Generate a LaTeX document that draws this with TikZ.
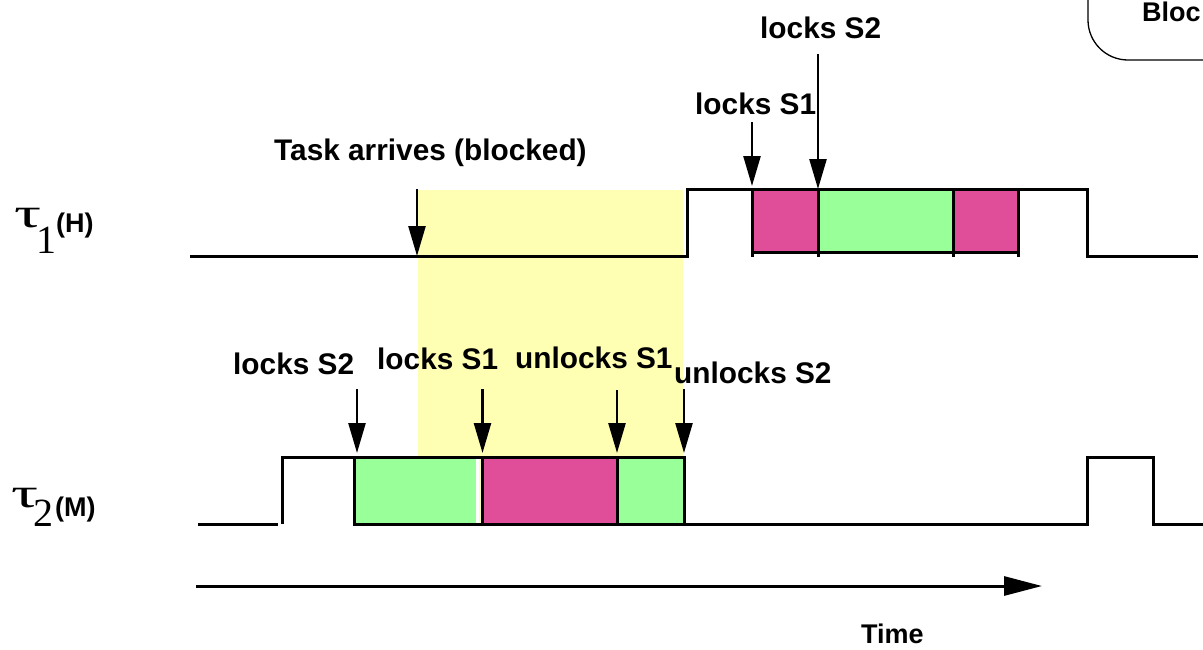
\documentclass[tikz,border=0pt]{standalone}
\usepackage{fontspec}
\setmainfont{Liberation Sans}
\newfontfamily\grfont{Liberation Serif}
\usetikzlibrary{arrows.meta}
\definecolor{lockgreen}{RGB}{153,255,153}
\definecolor{lockpink}{RGB}{224,78,153}
\definecolor{blockyellow}{RGB}{255,255,179}

\begin{document}
\begin{tikzpicture}[x=1pt,y=-1pt,
  wave/.style={line width=3pt, line join=miter},
  marker/.style={line width=2.5pt, -{Triangle[length=30pt,width=17pt]}},
  timeline/.style={line width=3pt, -{Triangle[length=38pt,width=19pt]}},
  lbl/.style={font=\bfseries\fontsize{29.8}{30}\selectfont, inner sep=0pt, anchor=base west},
  sublbl/.style={font=\bfseries\fontsize{27}{28}\selectfont, inner sep=0pt, anchor=base west},
  taskname/.style={font=\grfont\fontsize{42}{42}\selectfont, inner sep=0pt, anchor=base west}]
\useasboundingbox (0,0) rectangle (1203,649);
\begin{scope}
\clip (0,0) rectangle (1203,649);

% interval during which the high-priority task is blocked
\fill[blockyellow] (418,190) rectangle (683,524);

% critical sections of tau1
\fill[lockpink]  (752,189) rectangle (818,254);
\fill[lockgreen] (818,189) rectangle (953,254);
\fill[lockpink]  (953,189) rectangle (1018,254);
\draw[wave] (752,252) -- (1018,252);
\foreach \x in {752,818,953,1018} \draw[wave] (\x,189) -- (\x,257);

% tau1 activity
\draw[wave] (190,256) -- (687,256) -- (687,189) -- (1087,189) -- (1087,256) -- (1198,256);

% critical sections of tau2
\fill[lockgreen] (354,457) rectangle (476,524);
\fill[white]     (476,457) rectangle (478.5,524);
\fill[lockpink]  (482.5,457) rectangle (617,524);
\fill[lockgreen] (617,457) rectangle (684,524);

% tau2 activity
\draw[wave] (198,524) -- (278,524);
\draw[wave] (282,524) -- (282,457) -- (684,457) -- (684,524);
\draw[wave] (354,457) -- (354,524) -- (1087,524) -- (1087,457) -- (1153,457) -- (1153,524) -- (1203,524);
\draw[wave] (482.5,457) -- (482.5,524);
\draw[wave] (617,457) -- (617,524);

% legend box in the corner
\draw[line width=1.3pt, rounded corners=40pt] (1088,-40) -- (1088,60) -- (1260,60);
\node[sublbl] (legend) at (1142,21) {Bloc};
\end{scope}

% task names
\node[taskname] (tau1) at (14,227) {\scalebox{1.6}[1]{τ}\kern-5pt\raisebox{-26pt}{\fontsize{40}{40}\selectfont 1}};
\node[sublbl] (prioH) at (56,232) {(H)};
\node[taskname] (tau2) at (11,507) {\scalebox{1.6}[1]{τ}\kern-5pt\raisebox{-19pt}{\fontsize{40}{40}\selectfont 2}};
\node[sublbl] (prioM) at (55,516) {(M)};

% event labels
\node[lbl] (arrive) at (274,160) {Task arrives (blocked)};
\node[lbl] (hiS2) at (760,38) {locks S2};
\node[lbl] (hiS1) at (695,114) {locks S1};
\node[lbl] (loS2) at (233,374) {locks S2};
\node[lbl] (loS1) at (377,369) {locks S1};
\node[lbl] (loU1) at (515,368) {unlocks S1};
\node[lbl] (loU2) at (674,383) {unlocks S2};
\node[sublbl] (timeLbl) at (861,643) {Time};

% event markers
\coordinate (arriveA) at (417,189);  \coordinate (arriveB) at (417,256);
\coordinate (hiS1A) at (752,122);    \coordinate (hiS1B) at (752,186);
\coordinate (hiS2A) at (818,54);     \coordinate (hiS2B) at (818,189);
\coordinate (loS2A) at (357,389);    \coordinate (loS2B) at (357,453);
\coordinate (loS1A) at (482.5,389);  \coordinate (loS1B) at (482.5,453);
\coordinate (loU1A) at (617,390);    \coordinate (loU1B) at (617,453);
\coordinate (loU2A) at (684,389);    \coordinate (loU2B) at (684,453);
\draw[marker] (arriveA) -- (arriveB);
\draw[marker] (hiS1A) -- (hiS1B);
\draw[marker] (hiS2A) -- (hiS2B);
\draw[marker] (loS2A) -- (loS2B);
\draw[marker] (loS1A) -- (loS1B);
\draw[marker] (loU1A) -- (loU1B);
\draw[marker] (loU2A) -- (loU2B);

% time axis
\coordinate (t0) at (196,586);
\coordinate (t1) at (1042,586);
\draw[timeline] (t0) -- (t1);
\end{tikzpicture}
\end{document}
